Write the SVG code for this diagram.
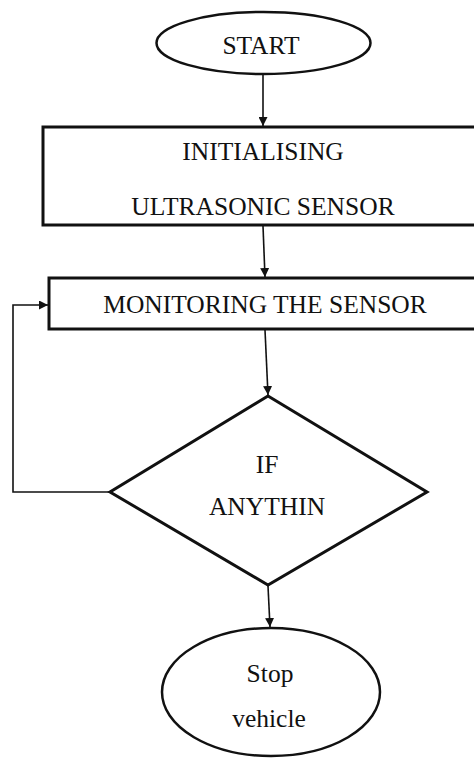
<svg xmlns="http://www.w3.org/2000/svg" width="474" height="758" viewBox="0 0 474 758">
<style>
.shape{fill:#fff;stroke:#111;stroke-width:3}
.ell{fill:#fff;stroke:#111;stroke-width:2.5}
text{font-family:'Liberation Serif',serif;font-size:25.5px;fill:#111;text-anchor:middle}
.conn{fill:none;stroke:#111;stroke-width:1.6}
</style>
<defs>
<marker id="arr" viewBox="0 0 10 10" refX="10" refY="5" markerWidth="9" markerHeight="9" markerUnits="userSpaceOnUse" orient="auto">
<path d="M0,0 L10,5 L0,10 Z" fill="#111"/>
</marker>
</defs>
<g id="start">
<ellipse class="ell" cx="263.5" cy="43" rx="107" ry="31"/>
<text x="261" y="54">START</text>
</g>
<g id="init">
<rect class="shape" x="43" y="127" width="445" height="98"/>
<text x="263" y="160">INITIALISING</text>
<text x="263" y="215">ULTRASONIC SENSOR</text>
</g>
<g id="monitor">
<rect class="shape" x="49" y="278" width="440" height="51"/>
<text x="265" y="313">MONITORING THE SENSOR</text>
</g>
<g id="decision">
<polygon class="shape" points="268,396 427,492 268,585 110,492"/>
<text x="267" y="473">IF</text>
<text x="267" y="515">ANYTHIN</text>
</g>
<g id="stop">
<ellipse class="ell" cx="271" cy="692" rx="109" ry="64"/>
<text x="270" y="682">Stop</text>
<text x="269" y="727">vehicle</text>
</g>
<g id="connectors">
<path class="conn" d="M263,74 L263,126" marker-end="url(#arr)"/>
<path class="conn" d="M263,226 L265,277" marker-end="url(#arr)"/>
<path class="conn" d="M265,330 L268,395" marker-end="url(#arr)"/>
<path class="conn" d="M268,586 L270,627" marker-end="url(#arr)"/>
<path class="conn" d="M110,492 L13,492 L13,305 L48,305" marker-end="url(#arr)"/>
</g>
</svg>
